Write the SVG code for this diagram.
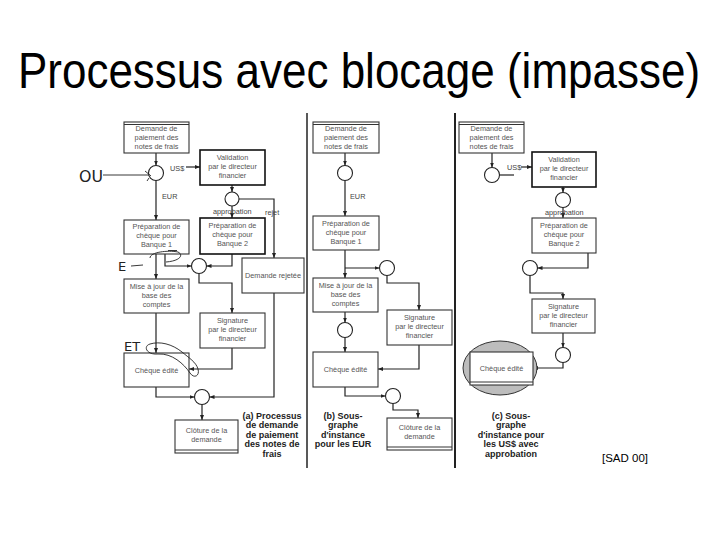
<svg xmlns="http://www.w3.org/2000/svg" width="720" height="540" viewBox="0 0 720 540">
<style>
.box{fill:#fff;stroke:#333;stroke-width:1.1}
.bold{stroke-width:1.6;stroke:#111}
.dl{stroke:#333;stroke-width:1;fill:none}
.circ{fill:#fff;stroke:#222;stroke-width:1.1}
.t{font-family:"Liberation Sans",Arial,sans-serif;font-size:7.3px;fill:#555;text-anchor:middle}
.lbl{font-family:"Liberation Sans",Arial,sans-serif;font-size:7.3px;fill:#444}
.cap{font-family:"Liberation Sans",Arial,sans-serif;font-size:9px;font-weight:bold;fill:#222;text-anchor:middle}
.hl{fill:none;stroke:#222;stroke-width:0.9}
.c{fill:none;stroke:#222;stroke-width:1.2}
.ca{fill:none;stroke:#222;stroke-width:1.2;marker-end:url(#ah)}
.div{stroke:#222}
</style>
<defs>
<marker id="ah" viewBox="0 0 10 10" refX="10" refY="5" markerWidth="5" markerHeight="5" markerUnits="userSpaceOnUse" orient="auto"><path d="M0,1 L10,5 L0,9 z" fill="#222"/></marker>
</defs>
<rect width="720" height="540" fill="#fff"/>
<text transform="translate(359,88) scale(1,1.12)" x="0" y="0" font-family="Liberation Sans, Arial, sans-serif" font-size="44" fill="#000" text-anchor="middle">Processus avec blocage (impasse)</text>

<!-- dividers -->
<line class="div" x1="307" y1="113" x2="307" y2="468" stroke-width="1.5"/>
<line class="div" x1="455" y1="113" x2="455" y2="468" stroke-width="2"/>

<g id="connectors">
<!-- panel a -->
<path class="ca" d="M156,153 V165.5"/>
<path class="ca" d="M186,167 H200"/>
<path class="ca" d="M156,180.5 V220"/>
<path class="ca" d="M232,185 V192"/>
<path class="ca" d="M232,206 V218"/>
<path class="ca" d="M239,199 H274 V258"/>
<path class="ca" d="M156,254 V279"/>
<path class="ca" d="M165,254 V266 H191.5"/>
<path class="ca" d="M232,254 V266 H206.5"/>
<path class="ca" d="M199,273.5 V283 H232 V313"/>
<path class="ca" d="M156,313 V353"/>
<path class="ca" d="M232,348 V369 H189"/>
<path class="ca" d="M156,387 V397 H194.5"/>
<path class="ca" d="M274,293 V397 H209.5"/>
<path class="ca" d="M202,404.5 V420"/>
<!-- panel b -->
<path class="ca" d="M345,153 V165.5"/>
<path class="ca" d="M345,180.5 V216"/>
<path class="ca" d="M345,250 V278"/>
<path class="ca" d="M345,268 H379.5"/>
<path class="ca" d="M387,275.5 V283 H419 V310"/>
<path class="ca" d="M345,312 V322.5"/>
<path class="ca" d="M345,337.5 V352"/>
<path class="ca" d="M419,345 V369 H378"/>
<path class="ca" d="M345,387 V396 H385.5"/>
<path class="ca" d="M393,403.5 V410 H418 V418"/>
<!-- panel c -->
<path class="ca" d="M492,153 V167.5"/>
<path class="c" d="M499.5,175 H514"/>
<path class="ca" d="M521,167 H532"/>
<path class="ca" d="M563,187 V192.5"/>
<path class="ca" d="M563,207.5 V218"/>
<path class="ca" d="M588,253 V268 H537.5"/>
<path class="ca" d="M530,275.5 V293 H563 V299"/>
<path class="ca" d="M563,333 V347.5"/>
<path class="ca" d="M563,362.5 V368 H533"/>
</g>

<!-- connector labels -->
<g id="labels">
<text class="lbl" x="170" y="171">US$</text>
<text class="lbl" x="162" y="199">EUR</text>
<text class="lbl" x="213" y="214">approbation</text>
<text class="lbl" x="265" y="215">rejet</text>
<text class="lbl" x="350" y="199">EUR</text>
<text class="lbl" x="507" y="170">US$</text>
<text class="lbl" x="545" y="215">approbation</text>
</g>

<!-- panel a nodes -->
<g id="a-demande"><rect class="box" x="124" y="122" width="65" height="31"/><line class="dl" x1="124" y1="124.5" x2="189" y2="124.5"/>
<text class="t" x="156.5" y="131">Demande de</text><text class="t" x="156.5" y="140">paiement des</text><text class="t" x="156.5" y="149">notes de frais</text></g>
<g id="a-ou"><circle class="circ" cx="156" cy="173" r="7.5"/></g>
<g id="a-validation"><rect class="box bold" x="200" y="150" width="65" height="35"/>
<text class="t" x="232.5" y="160">Validation</text><text class="t" x="232.5" y="169">par le directeur</text><text class="t" x="232.5" y="178">financier</text></g>
<g id="a-val-circ"><circle class="circ" cx="232" cy="199" r="7"/></g>
<g id="a-prep1"><rect class="box" x="124" y="220" width="65" height="34"/>
<text class="t" x="156.5" y="229">Préparation de</text><text class="t" x="156.5" y="238">chèque pour</text><text class="t" x="156.5" y="247">Banque 1</text></g>
<g id="a-prep2"><rect class="box bold" x="200" y="218" width="65" height="36"/>
<text class="t" x="232.5" y="228">Préparation de</text><text class="t" x="232.5" y="237">chèque pour</text><text class="t" x="232.5" y="246">Banque 2</text></g>
<g id="a-rejet"><rect class="box" x="242" y="258" width="62" height="35"/>
<text class="t" x="273" y="278">Demande rejetée</text></g>
<g id="a-et-circ"><circle class="circ" cx="199" cy="266" r="7.5"/></g>
<g id="a-maj"><rect class="box" x="124" y="279" width="65" height="34"/>
<text class="t" x="156.5" y="289">Mise à jour de la</text><text class="t" x="156.5" y="298">base des</text><text class="t" x="156.5" y="307">comptes</text></g>
<g id="a-sig"><rect class="box" x="200" y="313" width="65" height="35"/>
<text class="t" x="232.5" y="323">Signature</text><text class="t" x="232.5" y="332">par le directeur</text><text class="t" x="232.5" y="341">financier</text></g>
<g id="a-cheque"><rect class="box" x="124" y="353" width="65" height="34" stroke="#666"/>
<text class="t" x="156.5" y="373">Chèque édité</text></g>
<g id="a-join"><circle class="circ" cx="202" cy="397" r="7.5"/></g>
<g id="a-cloture"><rect class="box" x="175" y="420" width="63" height="33"/><line class="dl" x1="175" y1="450" x2="238" y2="450"/>
<text class="t" x="206.5" y="433">Clôture de la</text><text class="t" x="206.5" y="442">demande</text></g>

<!-- handwritten annotations -->
<g id="hand">
<text x="79" y="182" font-family="DejaVu Sans, sans-serif" font-size="15" fill="#222" textLength="24" lengthAdjust="spacingAndGlyphs">OU</text>
<path class="hl" d="M103,175 H149 M145,171 L151,176 M149,178 L147,181"/>
<text x="118" y="271" font-family="DejaVu Sans, sans-serif" font-size="13" fill="#222">E</text>
<path class="hl" d="M131,266 L143,265"/>
<path class="hl" d="M168,250.5 H177 M150,258 C150,252 168,250 178,252 C184,255 180,261 166,262"/>
<text x="124" y="351" font-family="DejaVu Sans, sans-serif" font-size="13" fill="#222">ET</text>
<path class="hl" d="M150,344 C143,346 146,355 158,354 C172,353 184,364 190,373 C194,379 200,376 198,369 C196,362 189,358 182,352 C172,344 160,341 150,344 Z"/>
</g>

<text class="cap" x="272" y="418.5">(a) Processus</text>
<text class="cap" x="272" y="428">de demande</text>
<text class="cap" x="272" y="437.5">de paiement</text>
<text class="cap" x="272" y="447">des notes de</text>
<text class="cap" x="272" y="456.5">frais</text>

<!-- panel b nodes -->
<g id="b-demande"><rect class="box" x="313" y="122" width="66" height="31"/><line class="dl" x1="313" y1="124.5" x2="379" y2="124.5"/>
<text class="t" x="346" y="131">Demande de</text><text class="t" x="346" y="140">paiement des</text><text class="t" x="346" y="149">notes de frais</text></g>
<g id="b-c1"><circle class="circ" cx="345" cy="173" r="7.5"/></g>
<g id="b-prep1"><rect class="box" x="313" y="216" width="66" height="34"/>
<text class="t" x="346" y="226">Préparation de</text><text class="t" x="346" y="235">chèque pour</text><text class="t" x="346" y="244">Banque 1</text></g>
<g id="b-c2"><circle class="circ" cx="387" cy="268" r="7.5"/></g>
<g id="b-maj"><rect class="box" x="313" y="278" width="65" height="34"/>
<text class="t" x="345.5" y="288">Mise à jour de la</text><text class="t" x="345.5" y="297">base des</text><text class="t" x="345.5" y="306">comptes</text></g>
<g id="b-c3"><circle class="circ" cx="345" cy="330" r="7.5"/></g>
<g id="b-sig"><rect class="box" x="387" y="310" width="65" height="35"/>
<text class="t" x="419.5" y="320">Signature</text><text class="t" x="419.5" y="329">par le directeur</text><text class="t" x="419.5" y="338">financier</text></g>
<g id="b-cheque"><rect class="box" x="313" y="352" width="65" height="35"/>
<text class="t" x="345.5" y="372">Chèque édité</text></g>
<g id="b-c4"><circle class="circ" cx="393" cy="396" r="7.5"/></g>
<g id="b-cloture"><rect class="box" x="387" y="418" width="65" height="32"/><line class="dl" x1="387" y1="447" x2="452" y2="447"/>
<text class="t" x="419.5" y="430">Clôture de la</text><text class="t" x="419.5" y="439">demande</text></g>

<text class="cap" x="343" y="418.5">(b) Sous-</text>
<text class="cap" x="343" y="428">graphe</text>
<text class="cap" x="343" y="437.5">d'instance</text>
<text class="cap" x="343" y="447">pour les EUR</text>

<!-- panel c nodes -->
<g id="c-demande"><rect class="box" x="459" y="122" width="65" height="31"/><line class="dl" x1="459" y1="124.5" x2="524" y2="124.5"/>
<text class="t" x="491.5" y="131">Demande de</text><text class="t" x="491.5" y="140">paiement des</text><text class="t" x="491.5" y="149">notes de frais</text></g>
<g id="c-c1"><circle class="circ" cx="492" cy="175" r="7.5"/></g>
<g id="c-validation"><rect class="box bold" x="532" y="152" width="64" height="35"/>
<text class="t" x="564" y="162">Validation</text><text class="t" x="564" y="171">par le directeur</text><text class="t" x="564" y="180">financier</text></g>
<g id="c-c2"><circle class="circ" cx="563" cy="200" r="7.5"/></g>
<g id="c-prep2"><rect class="box" x="532" y="218" width="64" height="35"/>
<text class="t" x="564" y="228">Préparation de</text><text class="t" x="564" y="237">chèque pour</text><text class="t" x="564" y="246">Banque 2</text></g>
<g id="c-c3"><circle class="circ" cx="530" cy="268" r="7.5"/></g>
<g id="c-sig"><rect class="box" x="532" y="299" width="63" height="34"/>
<text class="t" x="563.5" y="309">Signature</text><text class="t" x="563.5" y="318">par le directeur</text><text class="t" x="563.5" y="327">financier</text></g>
<g id="c-c4"><circle class="circ" cx="563" cy="355" r="7.5"/></g>
<g id="c-cheque"><ellipse cx="500" cy="368" rx="37" ry="27" fill="#bdbdbd" stroke="#333" stroke-width="1"/>
<rect class="box" x="470" y="352" width="63" height="33"/><line class="dl" x1="470" y1="382" x2="533" y2="382"/>
<text class="t" x="501.5" y="371">Chèque édité</text></g>

<text class="cap" x="511" y="418.5">(c) Sous-</text>
<text class="cap" x="511" y="428">graphe</text>
<text class="cap" x="511" y="437.5">d'instance pour</text>
<text class="cap" x="511" y="447">les US$ avec</text>
<text class="cap" x="511" y="456.5">approbation</text>

<text x="602" y="462" font-family="Liberation Sans, Arial, sans-serif" font-size="11.5" fill="#000">[SAD 00]</text>
</svg>
